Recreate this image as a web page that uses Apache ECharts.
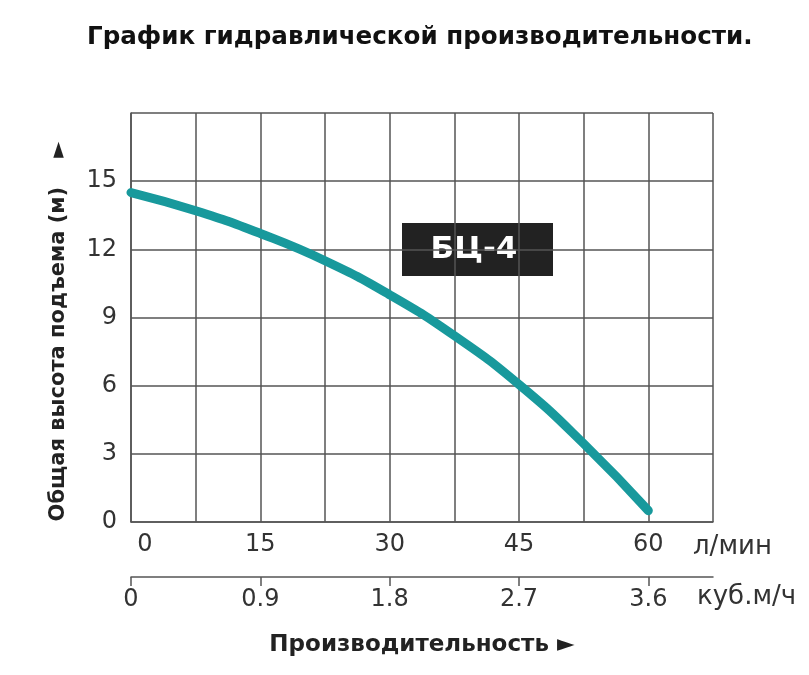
<!DOCTYPE html>
<html>
<head>
<meta charset="utf-8">
<script src="https://cdn.jsdelivr.net/npm/echarts@6/dist/echarts.min.js"></script>
<style>
    html, body { margin: 0; padding: 0; background: #fff; }
    #chart { width: 809px; height: 675px; }
</style>
</head>
<body>
<div id="chart"></div>
<script>
    // расход, л/мин
    var flowLpm = [0, 7.5, 15, 22.5, 30, 37.5, 45, 52.5, 60];
    // напор, м
    var headM = [14.5, 13.7, 12.7, 11.5, 10.0, 8.2, 6.05, 3.45, 0.5];
    // подписи осей
    var lpmTicks = [0, 15, 30, 45, 60];
    var m3hTicks = [0, 0.9, 1.8, 2.7, 3.6];
    var headTicks = [0, 3, 6, 9, 12, 15];

    var gridColor = '#555';
    var textColor = '#333';
    var font = 'DejaVu Sans';

    var points = [];
    for (var i = 0; i < flowLpm.length; i++) {
        points.push([flowLpm[i], headM[i]]);
    }

    var chart = echarts.init(document.getElementById('chart'));
    chart.setOption({
        animation: false,
        title: {
            text: 'График гидравлической производительности.',
            left: 82,
            top: 20,
            textStyle: { fontFamily: font, fontSize: 24.6, fontWeight: 'bold', color: '#111' }
        },
        grid: { left: 131, right: 96, top: 113, bottom: 153 },
        xAxis: [
            {
                type: 'value',
                min: 0,
                max: 67.5,
                interval: 7.5,
                axisLine: { show: true, lineStyle: { color: gridColor, width: 1.5 } },
                axisTick: { show: false },
                axisLabel: {
                    margin: 11,
                    fontFamily: font,
                    fontSize: 24,
                    color: textColor,
                    formatter: function (v) {
                        if (v === 0) return '{z|0}';
                        return lpmTicks.indexOf(v) >= 0 ? String(v) : '';
                    },
                    rich: {
                        z: { fontFamily: font, fontSize: 24, color: textColor, padding: [0, 0, 0, 28] }
                    }
                },
                splitLine: { show: true, lineStyle: { color: gridColor, width: 1.5 } }
            },
            {
                type: 'value',
                position: 'bottom',
                offset: 55,
                min: 0,
                max: 4.05,
                interval: 0.9,
                name: 'Производительность ►',
                nameLocation: 'middle',
                nameGap: 57,
                nameTextStyle: { fontFamily: font, fontSize: 23, fontWeight: 'bold', color: '#222' },
                axisLine: { show: true, lineStyle: { color: gridColor, width: 1.5 } },
                axisTick: { show: true, customValues: m3hTicks, length: 9, lineStyle: { color: gridColor, width: 1.5 } },
                axisLabel: {
                    customValues: m3hTicks,
                    margin: 11,
                    fontFamily: font,
                    fontSize: 24,
                    color: textColor,
                    formatter: function (v) { return v === 0 ? '0' : v.toFixed(1); }
                },
                splitLine: { show: false }
            }
        ],
        yAxis: {
            type: 'value',
            min: 0,
            max: 18,
            interval: 3,
            name: 'Общая высота подъема (м)    ►',
            nameLocation: 'middle',
            nameRotate: 90,
            nameGap: 62,
            nameTextStyle: {
                fontFamily: font, fontSize: 21, fontWeight: 'bold', color: '#222',
                padding: [0, 28, 0, 0]
            },
            axisLine: { show: true, lineStyle: { color: gridColor, width: 1.5 } },
            axisTick: { show: false },
            axisLabel: {
                margin: 14,
                fontFamily: font,
                fontSize: 24,
                color: textColor,
                formatter: function (v) {
                    return headTicks.indexOf(v) >= 0 ? String(v) : '';
                }
            },
            splitLine: { show: true, lineStyle: { color: gridColor, width: 1.5 } }
        },
        graphic: [
            {
                type: 'text',
                left: 693,
                top: 534,
                style: { text: 'л/мин', fontFamily: font, fontSize: 26, fill: textColor }
            },
            {
                type: 'text',
                left: 697,
                top: 584,
                style: { text: 'куб.м/ч', fontFamily: font, fontSize: 26, fill: textColor }
            },
            {
                type: 'group',
                left: 402,
                top: 223,
                children: [
                    { type: 'rect', shape: { x: 0, y: 0, width: 151, height: 53 }, style: { fill: '#222' } },
                    {
                        type: 'text',
                        x: 72,
                        y: 27,
                        style: {
                            text: 'БЦ-4', fontFamily: font, fontSize: 31, fontWeight: 'bold',
                            fill: '#fff', align: 'center', verticalAlign: 'middle'
                        }
                    }
                ]
            }
        ],
        series: [
            {
                type: 'line',
                xAxisIndex: 0,
                data: points,
                smooth: 0.5,
                symbol: 'none',
                lineStyle: { color: '#18999c', width: 9, cap: 'round' },
                z: 5
            }
        ]
    });
</script>
</body>
</html>
